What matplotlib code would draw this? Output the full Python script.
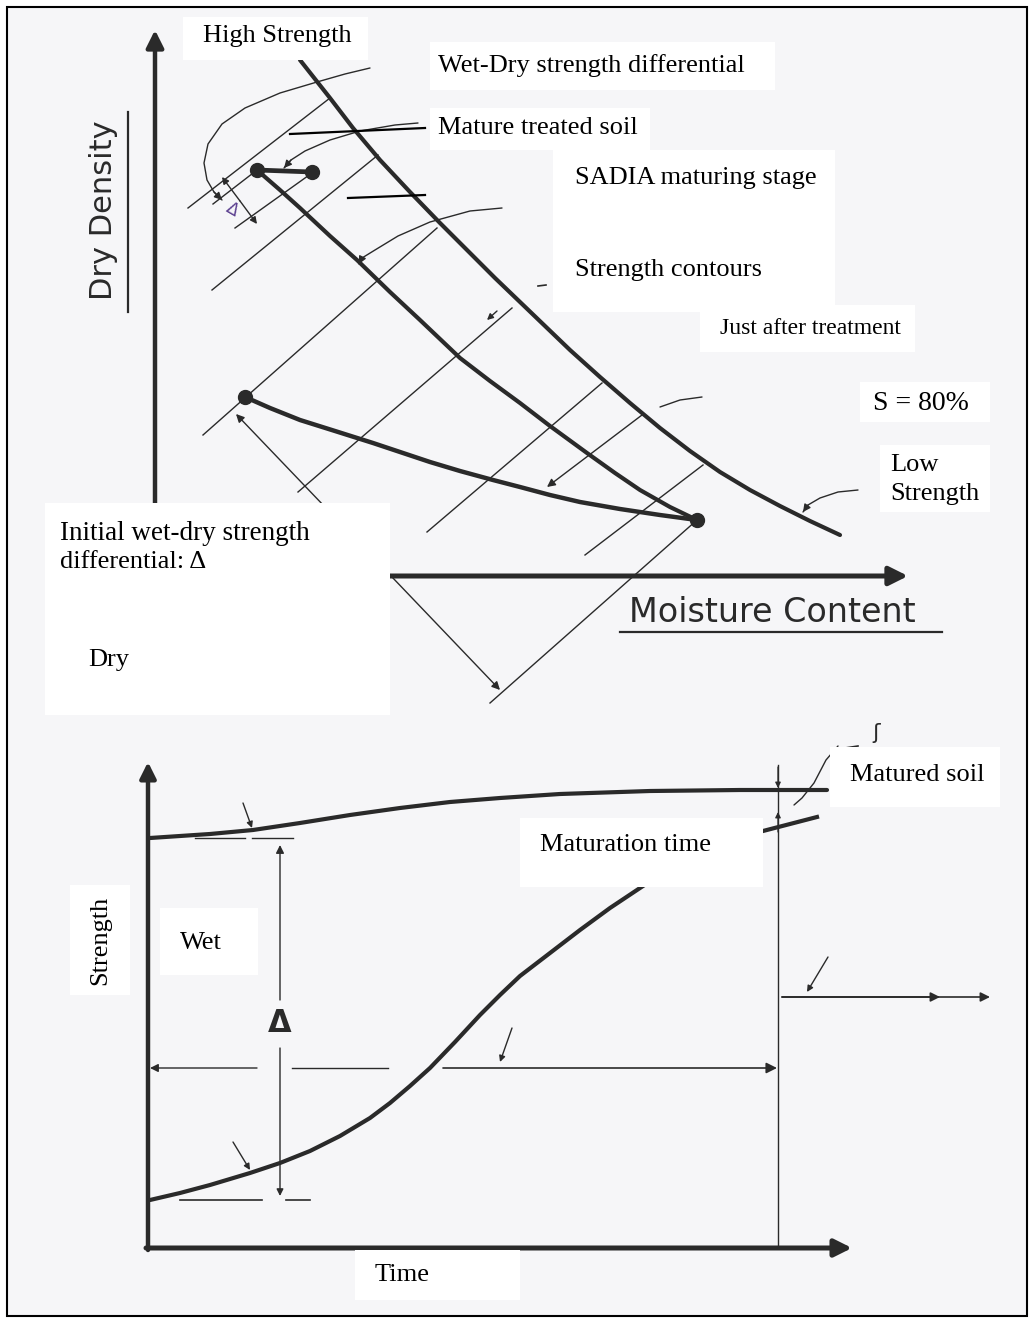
import matplotlib
matplotlib.use("Agg")
import matplotlib.pyplot as plt
from matplotlib.patches import Rectangle

W, H = 1031, 1321
ink = "#2a2a2a"
paper = "#f6f6f8"
serif = "Liberation Serif"

# =========================
# Top sketch: dry density vs moisture content (pixel coords, y down)
# =========================
upper_x = [300, 330, 353, 380, 410, 440, 470, 495, 520, 545, 570, 600, 630,
           660, 690, 720, 750, 780, 810, 840]
upper_y = [60, 98, 128, 160, 192, 223, 253, 278, 302, 326, 350, 377, 403,
           428, 451, 472, 490, 506, 521, 535]

mid_x = [257, 280, 300, 330, 357, 390, 420, 460, 490, 520, 550, 587, 615, 640, 670, 697]
mid_y = [170, 190, 208, 236, 260, 292, 320, 358, 381, 403, 426, 453, 473, 490, 507, 520]

low_x = [245, 270, 300, 335, 373, 400, 430, 460, 493, 520, 550, 580, 620, 660, 697]
low_y = [397, 408, 420, 431, 443, 452, 462, 471, 480, 487, 495, 502, 509, 515, 520]

seg_x = [257, 312]
seg_y = [170, 172]

dot_x = [257, 312, 245, 697]
dot_y = [170, 172, 397, 520]

# strength contours (start / end)
cont_x0 = [188, 213, 235, 212, 203, 298, 427, 585, 490]
cont_y0 = [208, 204, 228, 290, 435, 492, 532, 555, 703]
cont_x1 = [330, 257, 312, 378, 437, 512, 602, 703, 697]
cont_y1 = [98, 170, 173, 155, 228, 308, 383, 465, 520]

# leader curves
wetdry_x = [370, 345, 317, 280, 245, 222, 208, 204, 207, 214, 222]
wetdry_y = [68, 74, 82, 93, 108, 124, 144, 163, 180, 192, 200]
mature_x = [418, 395, 360, 330, 305, 291, 284]
mature_y = [123, 125, 131, 140, 151, 160, 168]
contour_lead_x = [502, 470, 430, 398, 375, 362, 359]
contour_lead_y = [208, 211, 222, 236, 250, 258, 264]
s80_x = [660, 680, 702]
s80_y = [407, 400, 397]
low_lead_x = [858, 838, 820, 808, 803]
low_lead_y = [490, 492, 498, 505, 512]

# straight guide lines
black_lines = [((290, 134), (425, 128)), ((348, 198), (425, 195))]

# =========================
# Bottom sketch: strength vs time
# =========================
dry_t = [150, 180, 210, 253, 300, 350, 400, 450, 500, 560, 650, 740, 827]
dry_s = [838, 836, 834, 830, 823, 815, 808, 802, 798, 794, 791, 790, 790]

wet_t = [150, 180, 210, 250, 280, 310, 340, 370, 390, 410, 430, 455, 480,
         500, 520, 550, 580, 610, 643, 680, 700]
wet_s = [1200, 1193, 1185, 1173, 1163, 1151, 1136, 1118, 1103, 1086, 1068,
         1042, 1015, 995, 976, 953, 930, 908, 886, 862, 849]

# text labels
label_text = ["High Strength", "Wet-Dry strength differential", "Mature treated soil",
              "SADIA maturing stage", "Strength contours", "Just after treatment",
              "S = 80%", "Low", "Strength", "Initial wet-dry strength",
              "differential: \u0394", "Dry", "Matured soil", "Maturation time",
              "Wet", "Time"]
label_x = [203, 438, 438, 575, 575, 720, 873, 890, 890, 60, 60, 88, 850, 540, 180, 375]
label_y = [36, 66, 128, 178, 270, 328, 403, 465, 494, 533, 562, 660, 775, 845, 943, 1275]
label_size = [19, 19, 19, 19, 19, 17, 20, 19, 19, 19.5, 19, 19, 19, 19, 19, 19]

# white patches behind the typed labels
box_x0 = [183, 430, 430, 553, 700, 860, 880, 45, 830, 520, 160, 355, 70]
box_y0 = [17, 42, 108, 150, 305, 382, 445, 503, 747, 818, 908, 1250, 885]
box_x1 = [368, 775, 650, 835, 915, 990, 990, 390, 1000, 763, 258, 520, 130]
box_y1 = [60, 90, 150, 312, 352, 422, 512, 715, 807, 887, 975, 1300, 995]


def arrow(ax, p_from, p_to, lw=1.0, scale=12, style="-|>"):
    ax.annotate("", xy=p_to, xytext=p_from,
                arrowprops=dict(arrowstyle=style, color=ink, lw=lw,
                                mutation_scale=scale, shrinkA=0, shrinkB=0))


def leader(ax, xs, ys, lw=1.0, head=True):
    ax.plot(xs, ys, color=ink, lw=lw, solid_capstyle="round")
    if head:
        arrow(ax, (xs[-2], ys[-2]), (xs[-1], ys[-1]), lw=lw, scale=11)


fig = plt.figure(figsize=(W / 100, H / 100), dpi=100)
ax = fig.add_axes([0, 0, 1, 1])
ax.set_xlim(0, W)
ax.set_ylim(H, 0)
ax.axis("off")

# paper + frame
ax.add_patch(Rectangle((7, 7), 1020, 1309, facecolor=paper, edgecolor="black", lw=1.5, zorder=0))

# ---- top sketch ----
arrow(ax, (155, 512), (155, 30), lw=3.2, scale=26)
arrow(ax, (390, 576), (908, 576), lw=3.6, scale=28)

for x0, y0, x1, y1 in zip(cont_x0, cont_y0, cont_x1, cont_y1):
    ax.plot([x0, x1], [y0, y1], color=ink, lw=1.0)

ax.plot(upper_x, upper_y, color=ink, lw=3.0, solid_capstyle="round")
ax.plot(mid_x, mid_y, color=ink, lw=3.0, solid_capstyle="round")
ax.plot(low_x, low_y, color=ink, lw=3.2, solid_capstyle="round")
ax.plot(seg_x, seg_y, color=ink, lw=3.4)
ax.plot(dot_x, dot_y, "o", color=ink, ms=10)

# dimension lines
arrow(ax, (240, 201), (222, 177), lw=1.0, scale=10)
arrow(ax, (240, 201), (257, 224), lw=1.0, scale=10)
ax.text(232, 210, "\u0394", color="#5b3f8f", fontsize=12, rotation=-30,
        ha="center", va="center", family="DejaVu Sans")
arrow(ax, (370, 554), (236, 414), lw=1.0, scale=12)
arrow(ax, (370, 554), (500, 690), lw=1.0, scale=12)

leader(ax, wetdry_x, wetdry_y)
leader(ax, mature_x, mature_y)
leader(ax, contour_lead_x, contour_lead_y)
leader(ax, s80_x, s80_y, head=False)
arrow(ax, (642, 415), (547, 487), lw=1.0, scale=12)
leader(ax, low_lead_x, low_lead_y)
arrow(ax, (497, 311), (487, 320), lw=1.0, scale=9)
ax.plot([538, 546], [286, 285], color=ink, lw=1.2)
for (p, q) in black_lines:
    ax.plot([p[0], q[0]], [p[1], q[1]], color="black", lw=1.6)

# handwritten axis titles
ax.text(103, 210, "Dry Density", rotation=90, fontsize=22, color=ink,
        ha="center", va="center", family="DejaVu Sans")
ax.plot([128, 128], [112, 312], color=ink, lw=1.6)
ax.text(772, 612, "Moisture Content", fontsize=24, color=ink,
        ha="center", va="center", family="DejaVu Sans")
ax.plot([620, 942], [632, 632], color=ink, lw=1.6)

# ---- bottom sketch ----
arrow(ax, (148, 1250), (148, 762), lw=3.2, scale=24)
arrow(ax, (146, 1248), (852, 1248), lw=3.6, scale=26)
ax.plot(dry_t, dry_s, color=ink, lw=3.0, solid_capstyle="round")
ax.plot(wet_t, wet_s, color=ink, lw=3.0, solid_capstyle="round")

# reference dashes at the start levels
ax.plot([195, 245], [838, 838], color=ink, lw=1.0)
ax.plot([252, 293], [838, 838], color=ink, lw=1.0)
ax.plot([180, 262], [1200, 1200], color=ink, lw=1.2)
ax.plot([286, 310], [1200, 1200], color=ink, lw=1.2)

# delta between the curves
arrow(ax, (280, 1000), (280, 845), lw=1.0, scale=12)
arrow(ax, (280, 1048), (280, 1196), lw=1.0, scale=10)
ax.text(280, 1024, "\u0394", fontsize=22, fontweight="bold", color=ink,
        ha="center", va="center", family="DejaVu Sans")

# maturation time span
arrow(ax, (257, 1068), (150, 1068), lw=1.0, scale=12)
ax.plot([292, 388], [1068, 1068], color=ink, lw=1.0)
arrow(ax, (443, 1068), (777, 1068), lw=1.2, scale=16)
ax.plot([778, 778], [765, 1248], color=ink, lw=1.0)

arrow(ax, (782, 997), (990, 997), lw=1.2, scale=14)
arrow(ax, (782, 997), (940, 997), lw=1.2, scale=14)

# small curly pointers
arrow(ax, (828, 957), (807, 992), lw=1.0, scale=9)
arrow(ax, (512, 1028), (500, 1062), lw=1.0, scale=9)
arrow(ax, (243, 803), (252, 828), lw=1.0, scale=9)
arrow(ax, (233, 1142), (250, 1170), lw=1.0, scale=9)
arrow(ax, (778, 767), (778, 788), lw=0.9, scale=8)
arrow(ax, (778, 832), (778, 812), lw=0.9, scale=8)
ax.plot([763, 817], [831, 817], color=ink, lw=3.0)
leader(ax, [838, 826, 814, 802, 794], [746, 760, 783, 798, 805], head=False)
ax.plot([845, 858], [748, 746], color=ink, lw=1.2)
ax.text(876, 733, "\u0283", fontsize=16, color=ink, ha="center", va="center",
        family="DejaVu Sans")

# ---- white label patches and typed text ----
for x0, y0, x1, y1 in zip(box_x0, box_y0, box_x1, box_y1):
    ax.add_patch(Rectangle((x0, y0), x1 - x0, y1 - y0, facecolor="white",
                           edgecolor="none", zorder=3))

for t, x, y, s in zip(label_text, label_x, label_y, label_size):
    ax.text(x, y, t, fontsize=s, family=serif, color="black",
            ha="left", va="center", zorder=4)

ax.text(100, 940, "Strength", rotation=90, fontsize=19, family=serif,
        color="black", ha="center", va="center", zorder=4)

fig.savefig("out.png", dpi=100, facecolor="white")
